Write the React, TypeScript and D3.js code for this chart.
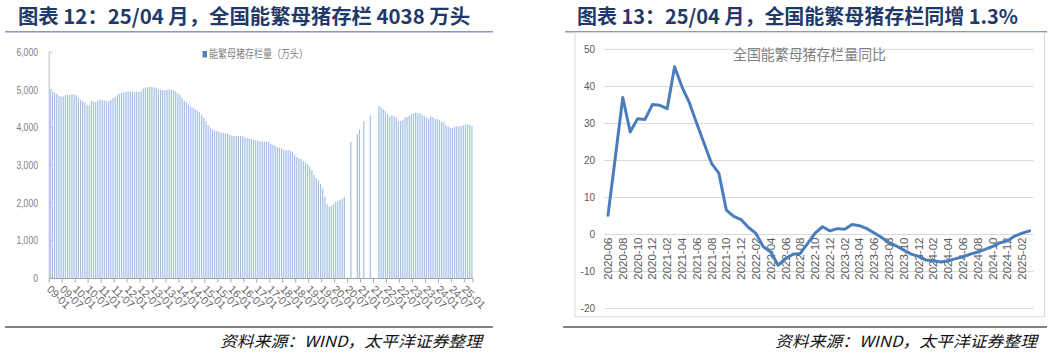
import React from 'react';
import * as d3 from 'd3';

const W = 1059;
const H = 354;

// ---------- Left chart: 能繁母猪存栏量（万头）, monthly 2009-01 .. 2025-04 ----------
const sow2009 = [5005, 4950, 4930, 4890, 4840, 4810, 4820, 4850, 4870, 4860, 4880, 4860];
const sow2010 = [4850, 4790, 4730, 4700, 4650, 4600, 4580, 4700, 4680, 4670, 4700, 4740];
const sow2011 = [4730, 4710, 4690, 4700, 4730, 4770, 4810, 4860, 4890, 4910, 4930, 4940];
const sow2012 = [4950, 4955, 4950, 4940, 4950, 4945, 4955, 5030, 5060, 5065, 5070, 5070];
const sow2013 = [5060, 5045, 5010, 5000, 4990, 4985, 5000, 5010, 5000, 4980, 4950, 4910];
const sow2014 = [4860, 4780, 4700, 4660, 4600, 4540, 4520, 4480, 4440, 4400, 4330, 4250];
const sow2015 = [4160, 4060, 4000, 3950, 3920, 3900, 3880, 3860, 3850, 3840, 3820, 3800];
const sow2016 = [3780, 3770, 3770, 3775, 3770, 3760, 3730, 3710, 3700, 3690, 3670, 3660];
const sow2017 = [3640, 3630, 3625, 3620, 3615, 3610, 3560, 3540, 3520, 3470, 3460, 3445];
const sow2018 = [3400, 3390, 3390, 3380, 3350, 3260, 3210, 3180, 3155, 3100, 3070, 3020];
const sow2019 = [2960, 2860, 2740, 2650, 2590, 2500, 2370, 2160, 1960, 1890, 1910, 1960];
const sow2020 = [2020, 2035, 2070, 2100, 2160, null, null, 3615, null, null, 3820, 3944];
const sow2021 = [null, 4164, null, null, 4316, null, null, null, 4562, 4536, 4475, 4438];
const sow2022 = [4350, 4289, 4324, 4289, 4262, 4164, 4164, 4191, 4262, 4280, 4305, 4350];
const sow2023 = [4377, 4395, 4385, 4377, 4324, 4305, 4262, 4236, 4289, 4270, 4226, 4218];
const sow2024 = [4200, 4148, 4130, 4058, 4023, 3987, 3987, 4014, 4032, 4032, 4032, 4058];
const sow2025 = [4076, 4076, 4076, 4038];

const sowValues: (number | null)[] = [
  ...sow2009, ...sow2010, ...sow2011, ...sow2012, ...sow2013, ...sow2014,
  ...sow2015, ...sow2016, ...sow2017, ...sow2018, ...sow2019, ...sow2020,
  ...sow2021, ...sow2022, ...sow2023, ...sow2024, ...sow2025,
];
const sowMonths = d3.timeMonth
  .range(new Date(2009, 0, 1), new Date(2025, 4, 1))
  .map((d) => d3.timeFormat('%y-%m')(d));
const sowTickLabels = [
  '09-01', '09-07', '10-01', '10-07', '11-01', '11-07', '12-01', '12-07', '13-01', '13-07',
  '14-01', '14-07', '15-01', '15-07', '16-01', '16-07', '17-01', '17-07', '18-01', '18-07',
  '19-01', '19-07', '20-01', '20-07', '21-01', '21-07', '22-01', '22-07', '23-01', '23-07',
  '24-01', '24-07', '25-01',
];
const sowYTicks = [0, 1000, 2000, 3000, 4000, 5000, 6000];

// ---------- Right chart: 全国能繁母猪存栏量同比 (%), monthly 2020-06 .. 2025-03 ----------
const yoyMonths = d3.timeMonth
  .range(new Date(2020, 5, 1), new Date(2025, 3, 1))
  .map((d) => d3.timeFormat('%Y-%m')(d));
const yoyValues = [
  5.2, 21, 37.0, 27.7, 31.3, 31.1, 35.1, 34.9, 34.0, 45.3, 39.9, 35.6,
  30.0, 24.6, 19.2, 16.5, 6.6, 4.9, 4.0, 1.9, 0.3, -3.3, -4.7, -8.3,
  -6.5, -5.3, -5.1, -2.4, 0.4, 2.1, 1.0, 1.6, 1.4, 2.7, 2.4, 1.6,
  0.4, -0.8, -2.2, -3.1, -4.2, -5.3, -5.9, -6.9, -7.1, -7.4, -7.1, -6.5,
  -6.0, -5.3, -4.7, -4.0, -3.2, -2.2, -1.7, -0.4, 0.4, 1.0,
];
const yoyYTicks = [-20, -10, 0, 10, 20, 30, 40, 50];

const titleLeft = '图表 12：25/04 月，全国能繁母猪存栏 4038 万头';
const titleRight = '图表 13：25/04 月，全国能繁母猪存栏同增 1.3%';
const legendLeft = '能繁母猪存栏量（万头）';
const legendRight = '全国能繁母猪存栏量同比';
const sourceText = '资料来源：WIND，太平洋证券整理';

const CJK = '"Noto Sans CJK SC", "Noto Sans", sans-serif';
const LAT = '"Liberation Sans", Arial, sans-serif';

export default function App() {
  // left scales
  const xL = d3.scaleBand<string>().domain(sowMonths).range([49.2, 473]).paddingInner(0);
  const yL = d3.scaleLinear().domain([0, 6000]).range([278, 52]);
  const bw = xL.bandwidth();

  // right scales
  const xR = d3.scalePoint<string>().domain(yoyMonths).range([604.3, 1033.3]).padding(0.5);
  const yR = d3.scaleLinear().domain([-20, 50]).range([308.6, 49.4]);
  const line = d3
    .line<number>()
    .x((_, i) => xR(yoyMonths[i]) as number)
    .y((d) => yR(d));

  const tickMonths = sowTickLabels.filter((l) => sowMonths.includes(l));

  return (
    <svg
      width={W}
      height={H}
      style={{ position: 'absolute', left: 0, top: 0, background: '#fff' }}
    >
      <rect x={0} y={0} width={W} height={H} fill="#fff" />

      {/* ===== Titles ===== */}
      <text x={18} y={24} fontFamily={CJK} fontWeight={700} fontSize={20} fill="#1f3a6a"
        textLength={452} lengthAdjust="spacingAndGlyphs">{titleLeft}</text>
      <line x1={5} x2={493} y1={31.8} y2={31.8} stroke="#8c98bf" strokeWidth={1.5} />
      <text x={577} y={24} fontFamily={CJK} fontWeight={700} fontSize={20} fill="#1f3a6a"
        textLength={441} lengthAdjust="spacingAndGlyphs">{titleRight}</text>
      <line x1={565} x2={1047} y1={31.8} y2={31.8} stroke="#8c98bf" strokeWidth={1.5} />

      {/* ===== Left chart ===== */}
      {sowValues.map((v, i) =>
        v == null ? null : (
          <rect
            key={i}
            x={(xL(sowMonths[i]) as number) + bw / 2 - 0.6}
            y={yL(v)}
            width={1.2}
            height={yL(0) - yL(v)}
            fill="#a3bfe5"
          />
        )
      )}
      {/* y axis */}
      <line x1={49.2} x2={49.2} y1={52} y2={278} stroke="#bfbfbf" strokeWidth={1} />
      {sowYTicks.map((t) => (
        <g key={t}>
          <line x1={49.2} x2={52.5} y1={yL(t)} y2={yL(t)} stroke="#bfbfbf" />
          <text
            transform={`translate(38,${yL(t) + 4}) scale(0.75,1)`}
            textAnchor="end"
            fontFamily={LAT}
            fontSize={11.5}
            fill="#7f7f7f"
          >
            {d3.format(',')(t)}
          </text>
        </g>
      ))}
      {/* x axis */}
      <line x1={49.2} x2={473} y1={278.5} y2={278.5} stroke="#a6a6a6" strokeWidth={1.2} />
      {tickMonths.map((m) => {
        const x = xL(m) as number;
        return (
          <g key={m}>
            <line x1={x} x2={x} y1={278.5} y2={282.5} stroke="#a6a6a6" />
            <text
              transform={`translate(${x - 3},${290}) rotate(45)`}
              fontFamily={LAT}
              fontSize={10.8}
              fill="#666"
            >
              {m}
            </text>
          </g>
        );
      })}
      <line x1={473} x2={473} y1={278.5} y2={282.5} stroke="#a6a6a6" />
      {/* legend */}
      <rect x={202.5} y={51} width={4.5} height={6.5} fill="#4f81bd" />
      <text x={209} y={58} fontFamily={CJK} fontSize={11} fill="#7f7f7f"
        textLength={99} lengthAdjust="spacingAndGlyphs">{legendLeft}</text>

      {/* ===== Right chart ===== */}
      <rect x={575} y={32.5} width={469.5} height={284.2} fill="none" stroke="#d9d9d9" strokeWidth={1} />
      {yoyYTicks.map((t) => (
        <g key={t}>
          <line x1={604.3} x2={1033.3} y1={yR(t)} y2={yR(t)} stroke="#d9d9d9" strokeWidth={1} />
          <text x={595} y={yR(t) + 3.5} textAnchor="end" fontFamily={LAT} fontSize={10} fill="#595959">
            {t}
          </text>
        </g>
      ))}
      {yoyMonths.map((m, i) =>
        i % 2 === 0 ? (
          <text
            key={m}
            transform={`translate(${(xR(m) as number) + 4},${yR(0) + 3}) rotate(-90)`}
            textAnchor="end"
            fontFamily={LAT}
            fontSize={11.5}
            fill="#595959"
          >
            {m}
          </text>
        ) : null
      )}
      <path d={line(yoyValues) || ''} fill="none" stroke="#4a7ebb" strokeWidth={3} strokeLinejoin="round" strokeLinecap="round" />
      <text x={733} y={60} fontFamily={CJK} fontSize={14.5} fill="#808080"
        textLength={153} lengthAdjust="spacingAndGlyphs">{legendRight}</text>

      {/* ===== Footers ===== */}
      <line x1={5} x2={493} y1={327} y2={327} stroke="#595959" strokeWidth={1.6} />
      <line x1={563} x2={1047} y1={327} y2={327} stroke="#595959" strokeWidth={1.6} />
      <text x={220} y={347} fontFamily={CJK} fontStyle="italic" fontSize={15.5} fill="#111"
        textLength={262} lengthAdjust="spacingAndGlyphs">{sourceText}</text>
      <text x={775} y={347} fontFamily={CJK} fontStyle="italic" fontSize={15.5} fill="#111"
        textLength={262} lengthAdjust="spacingAndGlyphs">{sourceText}</text>
    </svg>
  );
}
